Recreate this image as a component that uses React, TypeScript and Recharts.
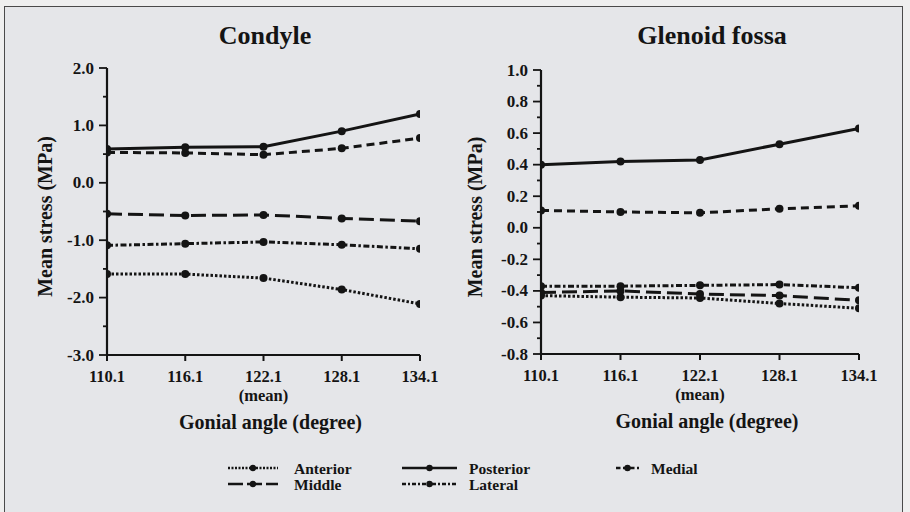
import React from 'react';
import { LineChart, Line, XAxis, YAxis } from 'recharts';

const angles = [110.1, 116.1, 122.1, 128.1, 134.1];
const angleLabels = ['110.1', '116.1', '122.1', '128.1', '134.1'];

// Condyle (MPa)
const condyleAnterior = [-1.59, -1.59, -1.66, -1.86, -2.11];
const condylePosterior = [0.59, 0.62, 0.63, 0.9, 1.2];
const condyleMedial = [0.53, 0.52, 0.49, 0.6, 0.78];
const condyleMiddle = [-0.54, -0.57, -0.56, -0.62, -0.67];
const condyleLateral = [-1.09, -1.06, -1.03, -1.08, -1.15];

// Glenoid fossa (MPa)
const fossaAnterior = [-0.43, -0.44, -0.445, -0.48, -0.51];
const fossaPosterior = [0.4, 0.42, 0.43, 0.53, 0.63];
const fossaMedial = [0.11, 0.1, 0.095, 0.12, 0.14];
const fossaMiddle = [-0.41, -0.4, -0.42, -0.43, -0.46];
const fossaLateral = [-0.37, -0.37, -0.365, -0.36, -0.38];

const condyleTicks = [-3, -2.5, -2, -1.5, -1, -0.5, 0, 0.5, 1, 1.5, 2];
const condyleMajor = [-3, -2, -1, 0, 1, 2];
const fossaTicks = [-0.8, -0.7, -0.6, -0.5, -0.4, -0.3, -0.2, -0.1, 0, 0.1, 0.2, 0.3, 0.4, 0.5, 0.6, 0.7, 0.8, 0.9, 1.0];
const fossaMajor = [-0.8, -0.6, -0.4, -0.2, 0, 0.2, 0.4, 0.6, 0.8, 1.0];

const INK = '#141414';
const FONT = '"Liberation Serif", "Times New Roman", serif';
const txt = (size: number): React.CSSProperties => ({ fontFamily: FONT, fontWeight: 700, fontSize: size, fill: INK });

const seriesStyle: { key: string; name: string; dash?: string; legendDash?: string }[] = [
  { key: 'anterior', name: 'Anterior', dash: '2.5 2', legendDash: '2 1.5' },
  { key: 'posterior', name: 'Posterior' },
  { key: 'medial', name: 'Medial', dash: '8 5', legendDash: '4.5 2.5' },
  { key: 'middle', name: 'Middle', dash: '15 6', legendDash: '15 4' },
  { key: 'lateral', name: 'Lateral', dash: '6 2.5 2.5 2.5', legendDash: '4 2 2 2' },
];

const buildRows = (a: number[], p: number[], me: number[], mi: number[], l: number[]) =>
  angles.map((x, i) => ({ x, anterior: a[i], posterior: p[i], medial: me[i], middle: mi[i], lateral: l[i] }));

const condyleRows = buildRows(condyleAnterior, condylePosterior, condyleMedial, condyleMiddle, condyleLateral);
const fossaRows = buildRows(fossaAnterior, fossaPosterior, fossaMedial, fossaMiddle, fossaLateral);

const Dot = (props: any) => {
  const { cx, cy, key } = props;
  if (cx == null || cy == null) return null;
  return <circle key={key} cx={cx} cy={cy} r={4} fill={INK} />;
};

const XTick = (props: any) => {
  const { x, y, payload } = props;
  const i = angles.findIndex((a) => Math.abs(a - payload.value) < 1e-6);
  return (
    <g>
      <line x1={x} x2={x} y1={y} y2={y + 6} stroke={INK} strokeWidth={2} />
      <text x={x} y={y + 27} textAnchor="middle" style={txt(16.5)}>
        {angleLabels[i]}
      </text>
      {i === 2 && (
        <text x={x} y={y + 46} textAnchor="middle" style={txt(16.5)}>
          (mean)
        </text>
      )}
    </g>
  );
};

const makeYTick = (major: number[], gap: number) => (props: any) => {
  const { x, y, payload } = props;
  const isMajor = major.some((m) => Math.abs(m - payload.value) < 1e-6);
  return (
    <g>
      <line x1={x - (isMajor ? 8 : 4)} x2={x} y1={y} y2={y} stroke={INK} strokeWidth={1.8} />
      {isMajor && (
        <text x={x - gap} y={y + 5.5} textAnchor="end" style={txt(17)}>
          {payload.value.toFixed(1)}
        </text>
      )}
    </g>
  );
};

const YTitle = (props: any) => {
  const { viewBox, cx } = props;
  const cy = viewBox.y + viewBox.height / 2 + 5;
  return (
    <text x={cx} y={cy} transform={`rotate(-90 ${cx} ${cy})`} textAnchor="middle" dominantBaseline="central"
      style={txt(20)}>
      Mean stress (MPa)
    </text>
  );
};

const XTitle = (props: any) => {
  const { viewBox, dx } = props;
  const cx = viewBox.x + viewBox.width / 2 + dx;
  return (
    <text x={cx} y={viewBox.y + 74} textAnchor="middle" style={txt(20)}>
      Gonial angle (degree)
    </text>
  );
};

interface PanelProps {
  title: string;
  titleX: number;
  rows: any[];
  ticks: number[];
  major: number[];
  domain: [number, number];
  top: number;
  bottomY: number;
  right: number;
  yWidth: number;
  labelGap: number;
  yTitleX: number;
  xTitleDx: number;
}

const Panel: React.FC<PanelProps> = (p) => (
  <div style={{ position: 'relative', width: 450, height: 450 }}>
    <div style={{ position: 'absolute', left: 0, top: 21, width: p.titleX * 2, textAlign: 'center', fontFamily: FONT,
      fontWeight: 'bold', fontSize: 26, color: INK, lineHeight: '30px' }}>
      {p.title}
    </div>
    <LineChart width={450} height={450} data={p.rows} margin={{ top: p.top, right: p.right, left: 0, bottom: 10 }}>
      <XAxis dataKey="x" type="number" domain={[110.1, 134.1]} ticks={angles} interval={0} height={440 - p.bottomY}
        tickSize={0} tickMargin={0} tick={<XTick />} axisLine={{ stroke: INK, strokeWidth: 2.2 }} tickLine={false}
        label={<XTitle dx={p.xTitleDx} />} allowDataOverflow />
      <YAxis type="number" domain={p.domain} ticks={p.ticks} interval={0} width={p.yWidth} tickSize={0} tickMargin={0}
        tick={makeYTick(p.major, p.labelGap)} axisLine={{ stroke: INK, strokeWidth: 2.2 }} tickLine={false}
        label={<YTitle cx={p.yTitleX} />} allowDataOverflow />
      {seriesStyle.map((s) => (
        <Line key={s.key} dataKey={s.key} name={s.name} stroke={INK} strokeWidth={3} strokeDasharray={s.dash}
          dot={Dot} activeDot={false} isAnimationActive={false} />
      ))}
    </LineChart>
  </div>
);

const Swatch = ({ x, y, w, dash }: { x: number; y: number; w: number; dash?: string }) => (
  <g>
    <line x1={x} x2={x + w} y1={y} y2={y} stroke={INK} strokeWidth={2.6} strokeDasharray={dash} />
    <circle cx={x + w / 2} cy={y} r={3.2} fill={INK} />
  </g>
);

const legendItems = [
  { key: 'anterior', x: 228, w: 50, tx: 294, row: 0 },
  { key: 'posterior', x: 402, w: 55, tx: 469, row: 0 },
  { key: 'medial', x: 616, w: 23, tx: 651, row: 0 },
  { key: 'middle', x: 228, w: 50, tx: 294, row: 1 },
  { key: 'lateral', x: 402, w: 55, tx: 469, row: 1 },
];

export default function App() {
  return (
    <div style={{ position: 'absolute', left: 0, top: 0, width: 910, height: 512, background: '#efefef', overflow: 'hidden' }}>
      <div style={{ position: 'absolute', left: 4, top: 6, width: 899, height: 520, background: '#e5e6e9',
        border: '1.5px solid #4a4a4a', boxSizing: 'border-box' }} />
      <div style={{ position: 'absolute', left: 0, top: 0 }}>
        <Panel title="Condyle" titleX={265} rows={condyleRows} ticks={condyleTicks} major={condyleMajor}
          domain={[-3, 2]} top={68} bottomY={355} right={30} yWidth={107} labelGap={13} yTitleX={45} xTitleDx={7} />
      </div>
      <div style={{ position: 'absolute', left: 450, top: 0 }}>
        <Panel title="Glenoid fossa" titleX={262} rows={fossaRows} ticks={fossaTicks} major={fossaMajor}
          domain={[-0.8, 1.0]} top={70} bottomY={354} right={41} yWidth={91} labelGap={13} yTitleX={25} xTitleDx={7} />
      </div>
      <svg style={{ position: 'absolute', left: 0, top: 450 }} width={910} height={62}>
        {legendItems.map((it) => {
          const s = seriesStyle.find((d) => d.key === it.key)!;
          const base = 24 + it.row * 16;
          return (
            <g key={it.key}>
              <Swatch x={it.x} y={base - 6} w={it.w} dash={s.legendDash} />
              <text x={it.tx} y={base} style={txt(15.5)}>{s.name}</text>
            </g>
          );
        })}
      </svg>
    </div>
  );
}
